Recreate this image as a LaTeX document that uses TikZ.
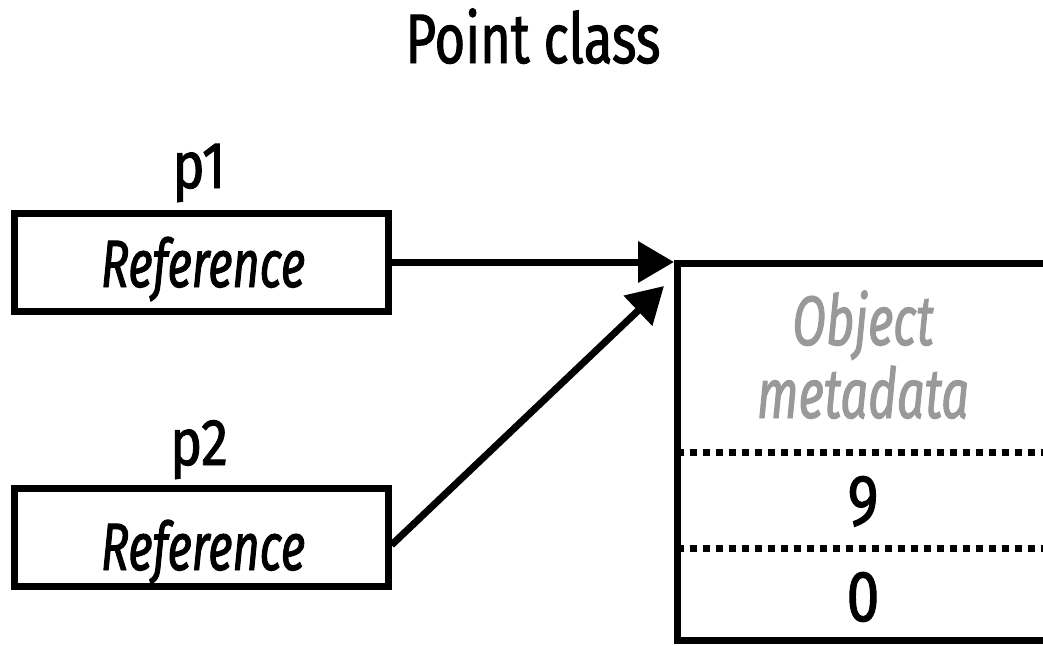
\documentclass[tikz,border=0pt]{standalone}
\usepackage{fontspec}
\usetikzlibrary{arrows.meta}
\newfontfamily\cft[FakeStretch=0.75,FakeBold=1.4]{Fira Sans}
\newfontfamily\cfp[FakeStretch=0.82,FakeBold=1.4]{Fira Sans}
\newfontfamily\cfi[FakeStretch=0.70,FakeBold=1.4]{Fira Sans}
\tikzset{
  lbl/.style={anchor=base, inner sep=0pt},
  ttl/.style={lbl, font=\cft\fontsize{70}{80}\selectfont},
  plbl/.style={lbl, font=\cfp\fontsize{66}{76}\selectfont},
  reftxt/.style={lbl, font=\cfi\itshape\fontsize{67}{76}\selectfont},
  meta/.style={lbl, font=\cfi\itshape\fontsize{70}{80}\selectfont, text=black!40},
  val/.style={lbl, font=\cfp\fontsize{72}{80}\selectfont},
  refbox/.style={draw, line width=7pt, minimum width=374pt, minimum height=98pt, inner sep=0pt},
  arr/.style={line width=7pt, -{Triangle[length=36pt,width=40pt]}},
  objline/.style={line width=7pt},
  sep/.style={line width=7pt, dash pattern=on 7pt off 6pt},
}
\begin{document}
\begin{tikzpicture}[x=1pt,y=-1pt]
\useasboundingbox (0,0) rectangle (1043,645);
\node[ttl] (title) at (533,63) {Point class};
\node[plbl] (p1) at (199,188) {p1};
\node[refbox] (r1) at (201,262) {};
\node[reftxt] (t1) at (203,287) {Reference};
\node[plbl] (p2) at (199,465) {p2};
\node[refbox] (r2) at (201,537) {};
\node[reftxt] (t2) at (203,570) {Reference};
\coordinate (tl) at (677,263);
\coordinate (bl) at (677,640);
\coordinate (tr) at (1050,263);
\coordinate (br) at (1050,640);
\coordinate (s1l) at (677,452);
\coordinate (s1r) at (1050,452);
\coordinate (s2l) at (677,548);
\coordinate (s2r) at (1050,548);
\coordinate (tip1) at (674,262);
\coordinate (tip2) at (664,286);
\draw[objline] (tr) -- (tl) -- (bl) -- (br);
\draw[sep] (s1l) -- (s1r);
\draw[sep] (s2l) -- (s2r);
\node[meta] (m1) at (863,345) {Object};
\node[meta] (m2) at (863,418) {metadata};
\node[val] (v9) at (863,525) {9};
\node[val] (v0) at (863,621) {0};
\draw[arr] (r1.east) -- (tip1);
\draw[arr] ([yshift=-8pt]r2.east) -- (tip2);
\end{tikzpicture}
\end{document}
